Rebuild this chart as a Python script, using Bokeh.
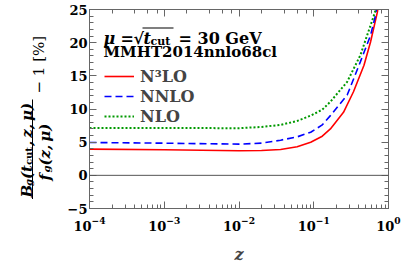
import numpy as np
from bokeh.plotting import figure
from bokeh.layouts import row
from bokeh.models import (Range1d, LogAxis, LinearAxis, LogTicker, SingleIntervalTicker,
                          Span, Label, BoxAnnotation, CustomJSTickFormatter)
from bokeh.embed import file_html
from bokeh.resources import INLINE

# ---- data ----
z_n3lo = [1e-4, 1e-3, 1e-2, 0.02, 0.036, 0.06, 0.091, 0.13, 0.167, 0.25, 0.34, 0.47, 0.575, 0.71, 0.75]
n3lo = [3.95, 3.85, 3.7, 3.75, 3.9, 4.3, 5.0, 5.9, 7.0, 9.5, 12.6, 16.6, 20.1, 24.6, 26.5]
z_nnlo = [1e-4, 1e-3, 1e-2, 0.02, 0.036, 0.06, 0.091, 0.13, 0.167, 0.28, 0.42, 0.575, 0.67, 0.72]
nnlo = [4.95, 4.85, 4.7, 4.85, 5.3, 5.8, 6.5, 7.6, 9.0, 12.1, 17.1, 21.1, 24.1, 26.5]
z_nlo = [1e-4, 1e-3, 1e-2, 0.02, 0.036, 0.06, 0.091, 0.13, 0.167, 0.28, 0.42, 0.575, 0.66, 0.7]
nlo = [7.15, 7.15, 7.1, 7.3, 7.6, 8.2, 9.0, 9.9, 11.1, 14.1, 18.1, 22.6, 24.6, 26.0]
series_labels = ["N\u00b3LO", "NNLO", "NLO"]

FONT = "DejaVu Serif"
AX = "#666666"
LW = 62          # width of the y-label strip
TOP, BOT = 9, 58  # borders shared by both panels

p = figure(width=407 - LW, height=266, x_axis_type="log",
           x_range=Range1d(1e-4, 1), y_range=Range1d(-5, 25),
           output_backend="svg", toolbar_location=None,
           min_border_left=89 - LW, min_border_right=19, min_border_top=TOP, min_border_bottom=BOT)
p.xgrid.visible = False
p.ygrid.visible = False
p.outline_line_color = AX
p.background_fill_color = "white"
p.border_fill_color = "white"

p.add_layout(Span(location=0, dimension="width", line_color="#555555", line_width=1))

p.line(z_n3lo, n3lo, line_color="#ff0000", line_width=1.6, legend_label=series_labels[0])
p.line(z_nnlo, nnlo, line_color="#0000ff", line_width=1.6, line_dash="7 4", legend_label=series_labels[1])
p.line(z_nlo, nlo, line_color="#009900", line_width=2, line_dash="2 2", legend_label=series_labels[2])

def style(ax, labels=True):
    ax.axis_line_color = AX
    ax.major_tick_line_color = AX
    ax.minor_tick_line_color = AX
    ax.major_tick_in = 7
    ax.major_tick_out = 0
    ax.minor_tick_in = 4
    ax.minor_tick_out = 0
    if labels:
        ax.major_label_text_font = FONT
        ax.major_label_text_font_size = "13px"
        ax.major_label_text_font_style = "bold"
        ax.major_label_text_color = "black"
    else:
        ax.formatter = CustomJSTickFormatter(code="return ''")
        ax.major_label_standoff = 0

xa = p.xaxis[0]
style(xa)
xa.major_label_standoff = 8
xa.axis_label = "z"
xa.axis_label_text_font = FONT
xa.axis_label_text_font_size = "16px"
xa.axis_label_text_font_style = "bold italic"
xa.axis_label_standoff = 11

ya = p.yaxis[0]
ya.ticker = SingleIntervalTicker(interval=5, num_minor_ticks=5)
style(ya)
ya.major_label_standoff = 2

top = LogAxis(ticker=LogTicker())
style(top, labels=False)
p.add_layout(top, "above")
right = LinearAxis(ticker=SingleIntervalTicker(interval=5, num_minor_ticks=5))
style(right, labels=False)
p.add_layout(right, "right")

leg = p.legend[0]
leg.location = (15, 82)
leg.label_text_font = FONT
leg.label_text_font_size = "16px"
leg.label_text_font_style = "bold"
leg.background_fill_alpha = 0
leg.border_line_alpha = 0
leg.padding = 0
leg.spacing = 0
leg.margin = 0
leg.glyph_width = 30
leg.glyph_height = 20
leg.label_height = 20
leg.label_standoff = 6

def lab(fig, text, x, y, size, style="bold", angle=0.0):
    fig.add_layout(Label(x=x, y=y, x_units="screen", y_units="screen", text=text,
                         text_font=FONT, text_font_size=f"{size}px", text_font_style=style,
                         text_color="black", text_baseline="alphabetic", text_align="left",
                         angle=angle))

def bar(fig, l, r, b, t):
    fig.add_layout(BoxAnnotation(left=l, right=r, bottom=b, top=t,
                                 left_units="screen", right_units="screen",
                                 bottom_units="screen", top_units="screen",
                                 fill_color="black", fill_alpha=1, line_color=None))

# annotation inside the frame
lab(p, "\u03bc", 14, 170, 16, "bold italic")
lab(p, "=", 31, 170, 16)
lab(p, "\u221a", 44, 170, 16)
lab(p, "t", 54, 170, 16, "bold italic")
lab(p, "cut", 61, 167, 11)
lab(p, "=", 89, 170, 16)
lab(p, "30 GeV", 108, 170, 16)
bar(p, 53, 84, 180, 181)
lab(p, "MMHT2014nnlo68cl", 14, 157, 15)

# y-axis label strip (fraction, rotated); frame aligned with the main frame
lf = figure(width=LW, height=266, x_range=Range1d(0, 1), y_range=Range1d(0, 1),
            output_backend="svg", toolbar_location=None,
            min_border_left=0, min_border_right=0, min_border_top=TOP, min_border_bottom=BOT,
            x_axis_location=None, y_axis_location=None)
lf.outline_line_color = None
lf.xgrid.visible = False
lf.ygrid.visible = False

R = np.pi / 2
FB = 266 - BOT   # page y of the frame bottom
y0 = FB - 197.0
lab(lf, "B", 26.5, y0, 15, "bold italic", R); y0 += 11.5
lab(lf, "g", 28, y0, 10, "bold italic", R); y0 += 7
lab(lf, "(", 26.5, y0, 15, "bold italic", R); y0 += 7
lab(lf, "t", 26.5, y0, 15, "bold italic", R); y0 += 7
lab(lf, "cut", 28, y0, 10, "bold", R); y0 += 19
lab(lf, ",\u2009z,\u2009\u03bc)", 26.5, y0, 15, "bold italic", R)

bar(lf, 31.5, 32.5, FB - 198.5, FB - 99)

y1 = FB - 180.0
lab(lf, "f", 44, y1, 15, "bold italic", R); y1 += 8
lab(lf, "g", 46, y1, 10, "bold italic", R); y1 += 7
lab(lf, "(z,\u2009\u03bc)", 44, y1, 15, "bold italic", R)

lab(lf, "\u2212 1 [%]", 38.5, FB - 93, 15, "normal", R)

layout = row(lf, p, spacing=0)
open("out.html", "w").write(file_html(layout, INLINE))
